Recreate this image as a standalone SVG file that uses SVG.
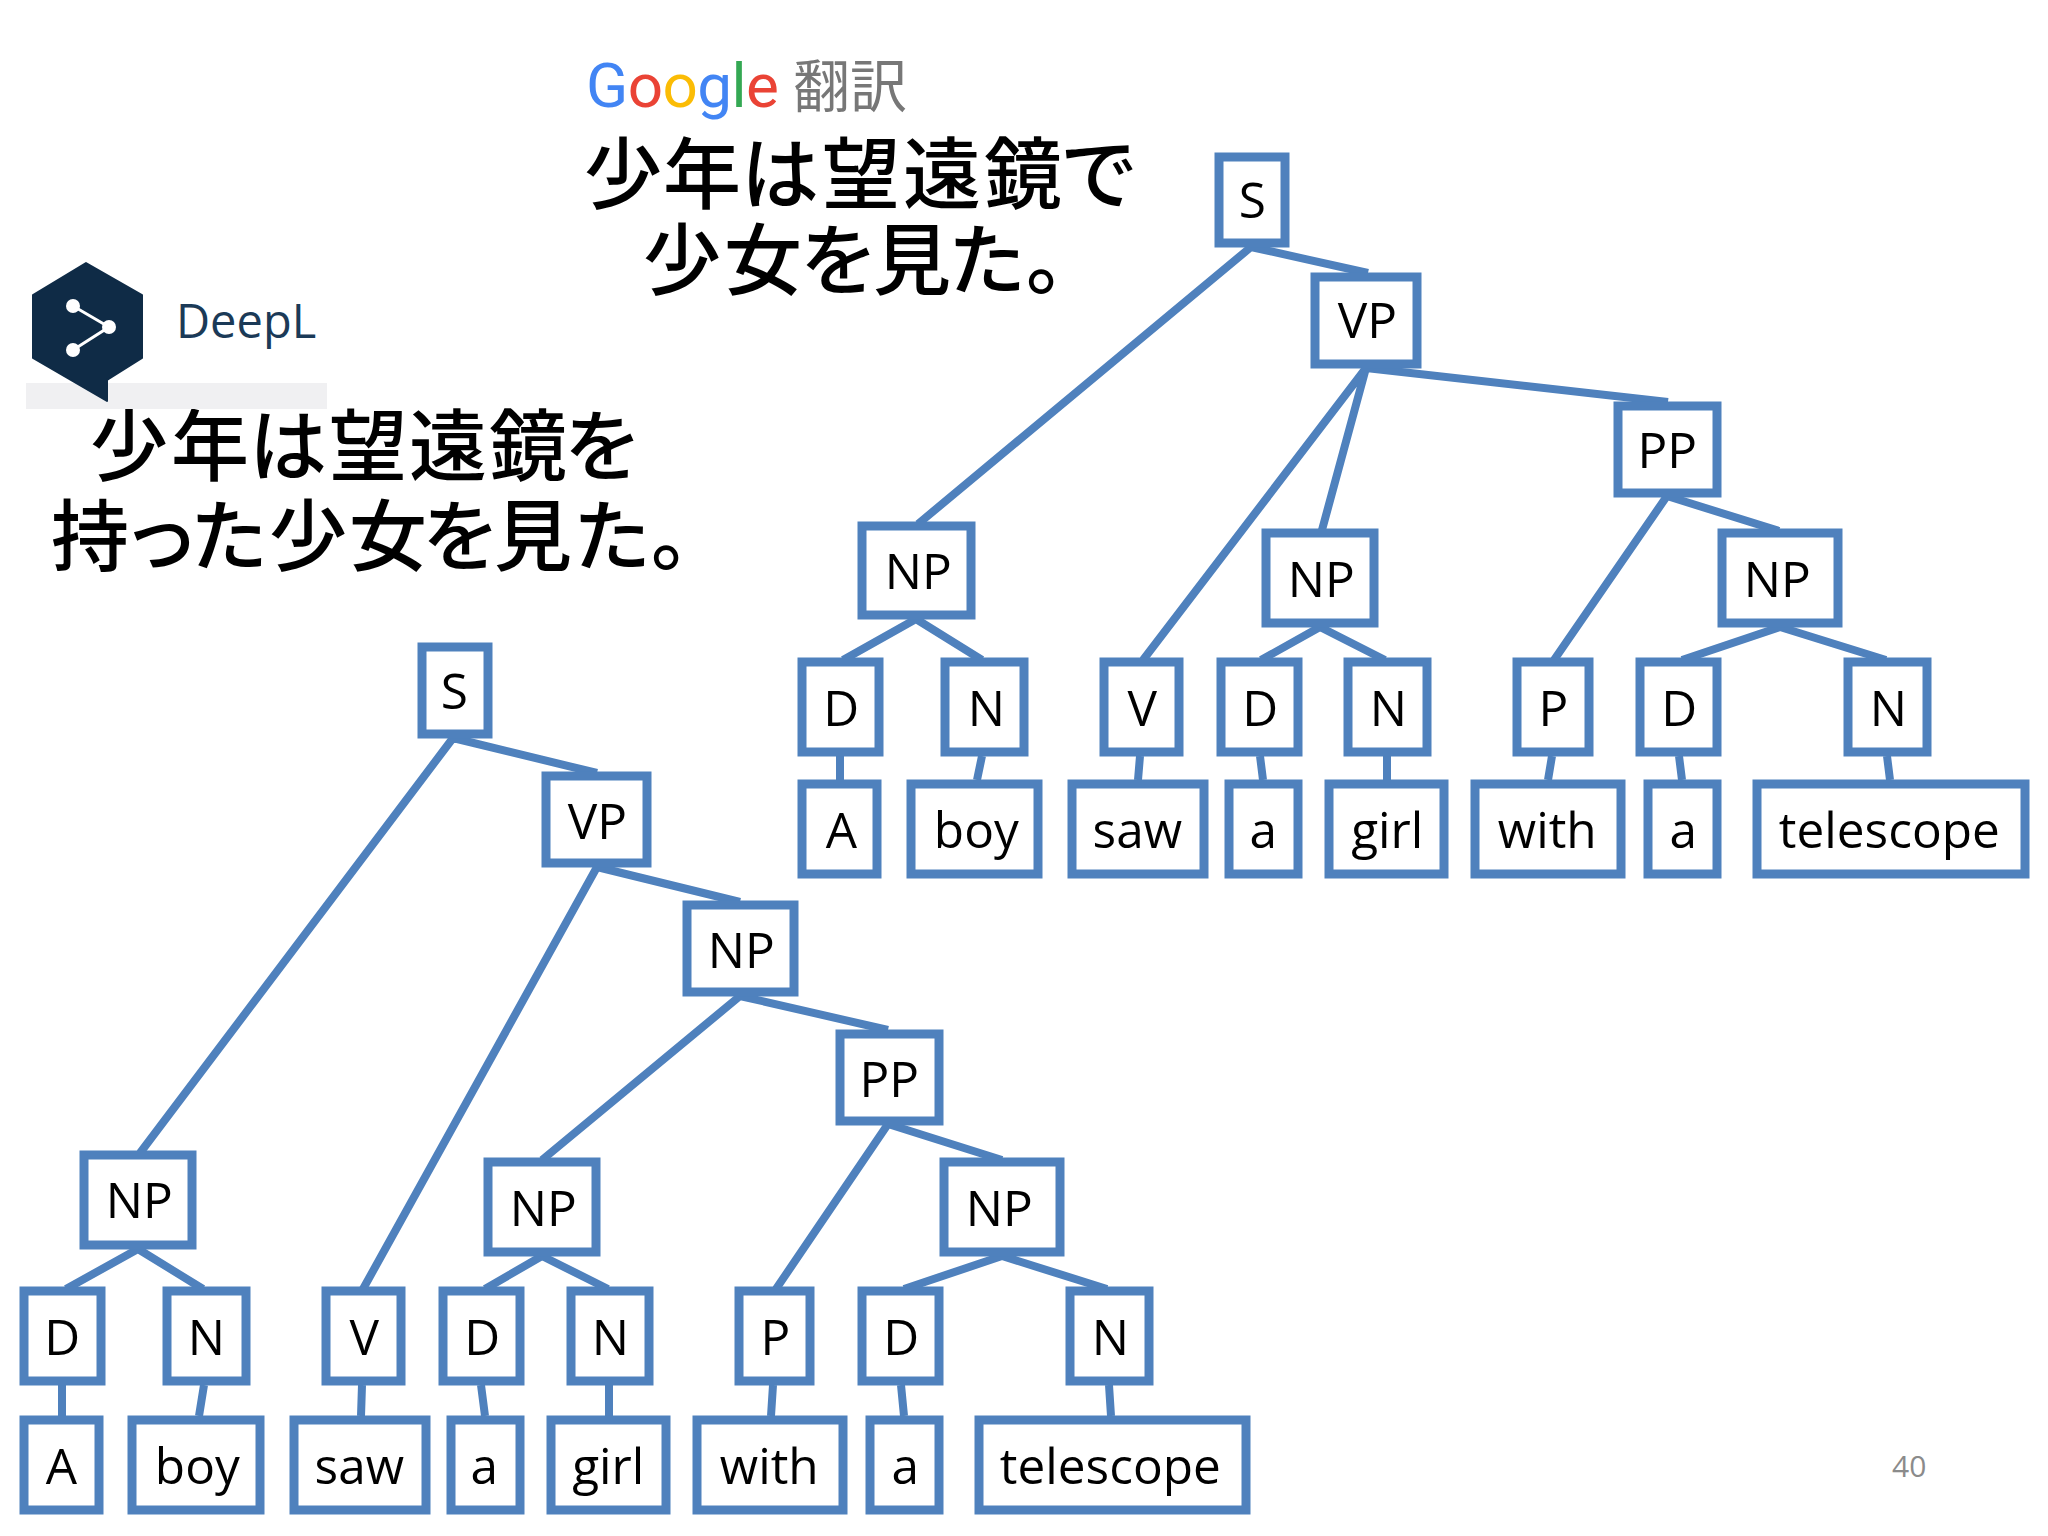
<svg xmlns="http://www.w3.org/2000/svg" width="2048" height="1536" viewBox="0 0 2048 1536">
<style>
.n rect{fill:#fff;stroke:#4f81bd;stroke-width:9}
.n text{font-family:"Open Sans","Liberation Sans",sans-serif;font-size:49.5px;fill:#000;text-anchor:middle;transform:translateX(1.3px)}
#connectors path{stroke:#4f81bd;stroke-width:8;fill:none}
.ja{font-family:"Noto Sans CJK JP",sans-serif;font-size:78px;font-weight:500;fill:#000}
</style>
<rect width="2048" height="1536" fill="#fff"/>
<g id="connectors">
<path d="M1251 247L918 524M1251 247L1368 273M1366 368L1143 660M1366 368L1322 530M1366 368L1668 402M1667 496L1554 660M1667 496L1779 531M916 619L843 660M916 619L982 660M1320 627L1261 660M1320 627L1385 660M1780 627L1682 660M1780 627L1886 660M840 756V780M982 756L977 780M1140 756L1138 780M1260 756L1263 780M1387 756V780M1552 756L1548 780M1679 756L1682 780M1887 756L1890 780"/>
<path d="M453 738L140 1153M453 738L597 773M597 867L363 1289M597 867L740 902M740 996L542 1160M740 996L888 1030M888 1124L776 1289M888 1124L1002 1160M138 1249L66 1289M138 1249L203 1289M542 1256L485 1289M542 1256L608 1289M1002 1256L904 1289M1002 1256L1107 1289M62 1385V1416M204 1385L199 1416M362 1385L361 1416M481 1385L485 1416M609 1385V1416M773 1385L771 1416M901 1385L904 1416M1109 1385L1111 1416"/>
</g>
<g id="t-S" class="n"><rect x="1219" y="157" width="66" height="86"/><text x="1251" y="218">S</text></g>
<g id="t-VP" class="n"><rect x="1315" y="277" width="102" height="87"/><text x="1366" y="338">VP</text></g>
<g id="t-PP" class="n"><rect x="1618" y="406" width="99" height="87"/><text x="1666" y="468">PP</text></g>
<g id="t-NP1" class="n"><rect x="862" y="526" width="109" height="89"/><text x="917" y="589">NP</text></g>
<g id="t-NP2" class="n"><rect x="1266" y="533" width="108" height="90"/><text x="1320" y="597">NP</text></g>
<g id="t-NP3" class="n"><rect x="1722" y="533" width="116" height="90"/><text x="1776" y="597">NP</text></g>
<g id="t-D1" class="n"><rect x="802" y="662" width="77" height="90"/><text x="840" y="726">D</text></g>
<g id="t-N1" class="n"><rect x="945" y="662" width="79" height="90"/><text x="985" y="726">N</text></g>
<g id="t-V" class="n"><rect x="1104" y="662" width="75" height="90"/><text x="1141" y="726">V</text></g>
<g id="t-D2" class="n"><rect x="1221" y="662" width="77" height="90"/><text x="1259" y="726">D</text></g>
<g id="t-N2" class="n"><rect x="1348" y="662" width="79" height="90"/><text x="1387" y="726">N</text></g>
<g id="t-P" class="n"><rect x="1517" y="662" width="72" height="90"/><text x="1552" y="726">P</text></g>
<g id="t-D3" class="n"><rect x="1640" y="662" width="77" height="90"/><text x="1678" y="726">D</text></g>
<g id="t-N3" class="n"><rect x="1848" y="662" width="79" height="90"/><text x="1887" y="726">N</text></g>
<g id="t-A" class="n"><rect x="802" y="784" width="75" height="90"/><text x="840" y="848">A</text></g>
<g id="t-boy" class="n"><rect x="911" y="784" width="127" height="90"/><text x="975" y="848">boy</text></g>
<g id="t-saw" class="n"><rect x="1072" y="784" width="132" height="90"/><text x="1136" y="848">saw</text></g>
<g id="t-a1" class="n"><rect x="1229" y="784" width="69" height="90"/><text x="1262" y="848">a</text></g>
<g id="t-girl" class="n"><rect x="1329" y="784" width="115" height="90"/><text x="1386" y="848">girl</text></g>
<g id="t-with" class="n"><rect x="1475" y="784" width="146" height="90"/><text x="1546" y="848">with</text></g>
<g id="t-a2" class="n"><rect x="1648" y="784" width="69" height="90"/><text x="1682" y="848">a</text></g>
<g id="t-telescope" class="n"><rect x="1757" y="784" width="268" height="90"/><text x="1888" y="848">telescope</text></g>
<g id="b-S" class="n"><rect x="422" y="647" width="66" height="87"/><text x="453" y="709">S</text></g>
<g id="b-VP" class="n"><rect x="546" y="776" width="101" height="87"/><text x="596" y="839">VP</text></g>
<g id="b-NP" class="n"><rect x="687" y="905" width="107" height="87"/><text x="740" y="968">NP</text></g>
<g id="b-PP" class="n"><rect x="840" y="1034" width="99" height="87"/><text x="888" y="1097">PP</text></g>
<g id="b-NP1" class="n"><rect x="84" y="1155" width="108" height="90"/><text x="138" y="1218">NP</text></g>
<g id="b-NP2" class="n"><rect x="488" y="1162" width="108" height="90"/><text x="542" y="1226">NP</text></g>
<g id="b-NP3" class="n"><rect x="944" y="1162" width="116" height="90"/><text x="998" y="1226">NP</text></g>
<g id="b-D1" class="n"><rect x="24" y="1291" width="77" height="90"/><text x="61" y="1355">D</text></g>
<g id="b-N1" class="n"><rect x="167" y="1291" width="79" height="90"/><text x="205" y="1355">N</text></g>
<g id="b-V" class="n"><rect x="326" y="1291" width="75" height="90"/><text x="363" y="1355">V</text></g>
<g id="b-D2" class="n"><rect x="443" y="1291" width="77" height="90"/><text x="481" y="1355">D</text></g>
<g id="b-N2" class="n"><rect x="571" y="1291" width="78" height="90"/><text x="609" y="1355">N</text></g>
<g id="b-P" class="n"><rect x="739" y="1291" width="71" height="90"/><text x="774" y="1355">P</text></g>
<g id="b-D3" class="n"><rect x="862" y="1291" width="77" height="90"/><text x="900" y="1355">D</text></g>
<g id="b-N3" class="n"><rect x="1070" y="1291" width="79" height="90"/><text x="1109" y="1355">N</text></g>
<g id="b-A" class="n"><rect x="24" y="1420" width="75" height="90"/><text x="60" y="1484">A</text></g>
<g id="b-boy" class="n"><rect x="132" y="1420" width="128" height="90"/><text x="196" y="1484">boy</text></g>
<g id="b-saw" class="n"><rect x="294" y="1420" width="132" height="90"/><text x="358" y="1484">saw</text></g>
<g id="b-a1" class="n"><rect x="451" y="1420" width="69" height="90"/><text x="483" y="1484">a</text></g>
<g id="b-girl" class="n"><rect x="551" y="1420" width="115" height="90"/><text x="607" y="1484">girl</text></g>
<g id="b-with" class="n"><rect x="697" y="1420" width="146" height="90"/><text x="768" y="1484">with</text></g>
<g id="b-a2" class="n"><rect x="870" y="1420" width="69" height="90"/><text x="904" y="1484">a</text></g>
<g id="b-telescope" class="n"><rect x="979" y="1420" width="267" height="90"/><text x="1109" y="1484">telescope</text></g>
<text class="ja" x="584 663 741 822 903 984 1060" y="203">少年は望遠鏡で</text>
<text class="ja" x="643 724 800 873 948 1026" y="289">少女を見た。</text>
<text class="ja" x="90 171 249 329 409 489 564" y="475">少年は望遠鏡を</text>
<text class="ja" x="51 122 190 269 349 422 494 573 651" y="565">持った少女を見た。</text>
<g id="google"><text x="586" y="107" font-family="Roboto,sans-serif" font-size="62" textLength="193"><tspan fill="#4285f4">G</tspan><tspan fill="#ea4335">o</tspan><tspan fill="#fbbc05">o</tspan><tspan fill="#4285f4">g</tspan><tspan fill="#34a853">l</tspan><tspan fill="#ea4335">e</tspan></text>
<text x="793" y="107" font-family="Noto Sans CJK JP,sans-serif" font-size="57" fill="#777">翻訳</text></g>
<g id="deepl"><rect x="26" y="383" width="301" height="26" fill="#f0f0f2"/>
<path d="M86 263L142 295V358L107 380V401L33 358V295Z" fill="#0f2b46" stroke="#0f2b46" stroke-width="2" stroke-linejoin="round"/>
<path d="M73 306L109 327L73 350" fill="none" stroke="#fff" stroke-width="3"/>
<circle cx="73" cy="306" r="7" fill="#fff"/><circle cx="109" cy="327" r="7" fill="#fff"/><circle cx="73" cy="350" r="7" fill="#fff"/>
<text x="176" y="338" font-family="Open Sans,sans-serif" font-size="47" font-weight="500" fill="#1b3a57">DeepL</text></g>
<text x="1892" y="1477" font-family="Open Sans,sans-serif" font-size="30" fill="#8b8b8b">40</text>
</svg>
